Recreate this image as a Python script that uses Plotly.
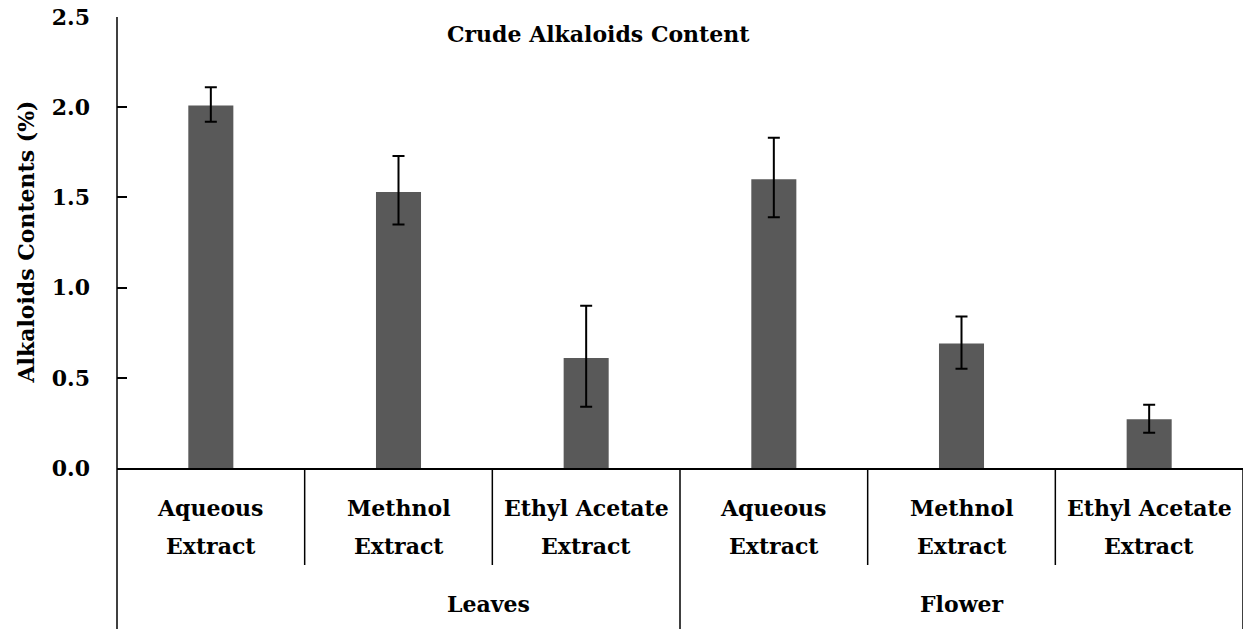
import plotly.graph_objects as go

categories = ["Aqueous Extract", "Methnol Extract", "Ethyl Acetate Extract",
              "Aqueous Extract", "Methnol Extract", "Ethyl Acetate Extract"]
label_line1 = ["Aqueous", "Methnol", "Ethyl Acetate", "Aqueous", "Methnol", "Ethyl Acetate"]
label_line2 = ["Extract", "Extract", "Extract", "Extract", "Extract", "Extract"]
groups = ["Leaves", "Flower"]
group_pos = [1.48, 4.0]
values = [2.01, 1.53, 0.61, 1.60, 0.69, 0.27]
err_plus = [0.10, 0.20, 0.29, 0.23, 0.15, 0.08]
err_minus = [0.09, 0.18, 0.27, 0.21, 0.14, 0.075]
y_ticks = [0.0, 0.5, 1.0, 1.5, 2.0, 2.5]

FONT = "DejaVu Serif"
FS = 22
xs = list(range(len(values)))

fig = go.Figure()
fig.add_trace(go.Bar(
    x=xs, y=values, width=0.24,
    marker=dict(color="#595959", line=dict(color="#595959", width=0)),
    error_y=dict(type="data", symmetric=False, array=err_plus, arrayminus=err_minus,
                 color="black", thickness=2, width=6),
))

H = 451.0
ext_short = -(565 - 468) / H
ext_long = -(632 - 468) / H
shapes = [dict(type="line", xref="paper", yref="paper", x0=0, x1=0, y0=1, y1=ext_long,
               line=dict(color="black", width=1.5))]
for xv in [0.5, 1.5, 3.5, 4.5]:
    shapes.append(dict(type="line", xref="x", yref="paper", x0=xv, x1=xv, y0=0, y1=ext_short,
                       line=dict(color="black", width=1.5)))
for xv in [2.5, 5.5]:
    shapes.append(dict(type="line", xref="x", yref="paper", x0=xv, x1=xv, y0=0, y1=ext_long,
                       line=dict(color="black", width=1.5)))

tfont = dict(family=FONT, size=FS, color="black", weight="bold")
annotations = []
for i in xs:
    annotations.append(dict(x=i, y=-(508 - 468) / H, xref="x", yref="paper", text=label_line1[i],
                            showarrow=False, yanchor="middle", xanchor="center", font=tfont))
    annotations.append(dict(x=i, y=-(546 - 468) / H, xref="x", yref="paper", text=label_line2[i],
                            showarrow=False, yanchor="middle", xanchor="center", font=tfont))
for g, p in zip(groups, group_pos):
    annotations.append(dict(x=p, y=-(604 - 468) / H, xref="x", yref="paper", text=g,
                            showarrow=False, yanchor="middle", xanchor="center", font=tfont))
annotations.append(dict(x=(598 - 117) / 1126.0, y=(468 - 34) / H, xref="paper", yref="paper",
                        text="Crude Alkaloids Content", showarrow=False,
                        yanchor="middle", xanchor="center",
                        font=dict(family=FONT, size=22, color="black", weight="bold")))
annotations.append(dict(x=-92 / 1126.0, y=0.5, xref="paper", yref="paper",
                        text="Alkaloids Contents (%)", showarrow=False, textangle=-90,
                        yanchor="middle", xanchor="center", font=tfont))

fig.update_layout(
    width=1250, height=629,
    margin=dict(l=117, r=7, t=17, b=161, autoexpand=False),
    plot_bgcolor="white", paper_bgcolor="white",
    showlegend=False,
    shapes=shapes, annotations=annotations,
    xaxis=dict(range=[-0.5, 5.5], showticklabels=False, ticks="", showgrid=False,
               zeroline=False, showline=True, linecolor="black", linewidth=1.5,
               automargin=False),
    yaxis=dict(range=[0, 2.5], tickvals=y_ticks, ticktext=[f"{v:.1f}" for v in y_ticks],
               ticks="inside", ticklen=10, tickwidth=1.5, tickcolor="black",
               showgrid=False, zeroline=False, showline=False, automargin=False,
               ticklabelstandoff=26, ticklabeloverflow="allow",
               tickfont=tfont),
)

fig.write_html("out.html", config={"displayModeBar": False},
               post_script="document.body.style.margin='0';document.body.style.overflow='hidden';")
